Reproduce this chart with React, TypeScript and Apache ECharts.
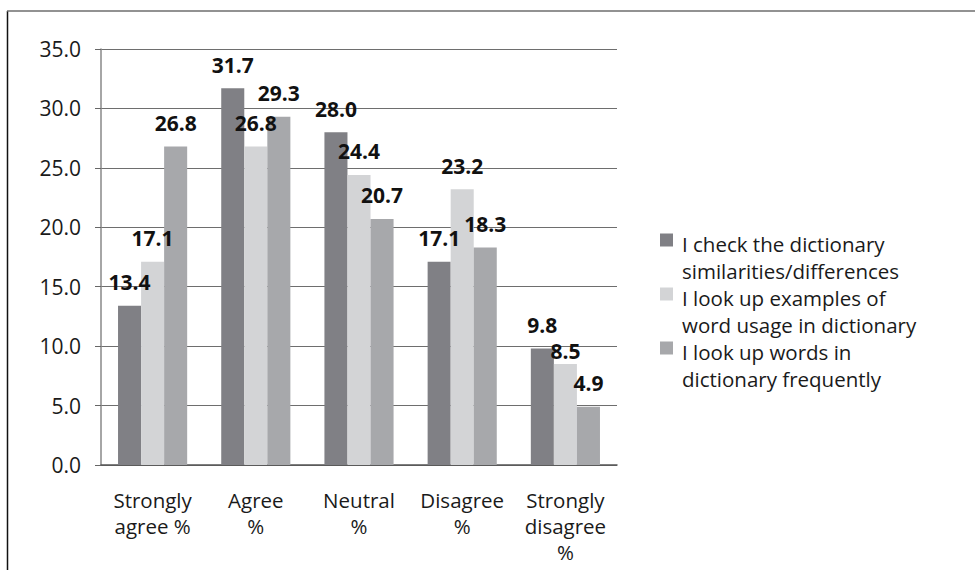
import React, { useEffect, useRef } from "react";
import * as echarts from "echarts";

const categories = [
  "Strongly\nagree %",
  "Agree\n%",
  "Neutral\n%",
  "Disagree\n%",
  "Strongly\ndisagree\n%",
];
const seriesNames = [
  "I check the dictionary\nsimilarities/differences",
  "I look up examples of\nword usage in dictionary",
  "I look up words in\ndictionary frequently",
];
const checkSimilarities = [13.4, 31.7, 28.0, 17.1, 9.8];
const lookUpExamples = [17.1, 26.8, 24.4, 23.2, 8.5];
const lookUpFrequently = [26.8, 29.3, 20.7, 18.3, 4.9];
const seriesValues = [checkSimilarities, lookUpExamples, lookUpFrequently];
const seriesColors = ["#808085", "#d3d4d6", "#a7a8ab"];
// vertical nudges of individual value labels (pixels), per series
const labelNudges = [
  [0, 0, 0, 0, 0],
  [0, 0, 0, 0, 11],
  [0, 0, 0, 0, 0],
];

const FONT = "'Open Sans', 'Noto Sans', sans-serif";

export default function App() {
  const ref = useRef<HTMLDivElement>(null);
  useEffect(() => {
    if (!ref.current) return;
    const chart = echarts.init(ref.current, null, { renderer: "svg" });
    chart.setOption({
      animation: false,
      backgroundColor: "#ffffff",
      textStyle: { fontFamily: FONT },
      grid: { left: 101, right: 358, top: 49, bottom: 105, containLabel: false },
      graphic: [
        {
          type: "line",
          shape: { x1: 7.5, y1: 11, x2: 7.5, y2: 580 },
          style: { stroke: "#111", lineWidth: 1.5 },
        },
        {
          type: "line",
          shape: { x1: 7, y1: 11, x2: 980, y2: 11 },
          style: { stroke: "#6e6e6e", lineWidth: 1.5 },
        },
      ],
      legend: {
        orient: "vertical",
        left: 655,
        top: 225,
        padding: 5,
        itemWidth: 13,
        itemHeight: 54,
        itemGap: 0,
        icon: "path://M0,7h13v13h-13z M0,54",
        textStyle: {
          fontFamily: FONT,
          fontSize: 20.5,
          lineHeight: 27,
          color: "#1a1a1a",
          padding: [0, 0, 0, 4],
        },
        data: seriesNames,
      },
      xAxis: {
        type: "category",
        data: categories,
        axisLine: { show: true, lineStyle: { color: "#555", width: 1.5 } },
        axisTick: { show: false },
        axisLabel: {
          interval: 0,
          fontFamily: FONT,
          fontSize: 20.5,
          lineHeight: 26,
          color: "#1a1a1a",
          margin: 22,
        },
      },
      yAxis: {
        type: "value",
        min: 0,
        max: 35,
        interval: 5,
        axisLine: { show: true, lineStyle: { color: "#888", width: 1.5 } },
        axisTick: { show: true, length: 6, lineStyle: { color: "#666" } },
        splitLine: { lineStyle: { color: "#6e6e6e", width: 1.2 } },
        axisLabel: {
          formatter: (v: number) => v.toFixed(1),
          fontFamily: FONT,
          fontSize: 21,
          color: "#1a1a1a",
          margin: 20,
        },
      },
      series: seriesNames.map((name, i) => ({
        name,
        type: "bar",
        data: seriesValues[i].map((v, j) =>
          labelNudges[i][j]
            ? { value: v, label: { offset: [0, labelNudges[i][j]] } }
            : v
        ),
        barGap: "0%",
        barCategoryGap: "33%",
        itemStyle: { color: seriesColors[i] },
        label: {
          show: true,
          position: "top",
          distance: 13,
          formatter: (p: any) => Number(p.value).toFixed(1),
          fontFamily: FONT,
          fontSize: 21,
          fontWeight: "bold",
          color: "#111",
        },
        z: 2,
      })),
    });
    return () => chart.dispose();
  }, []);
  return (
    <div
      ref={ref}
      style={{ position: "absolute", left: 0, top: 0, width: 975, height: 570 }}
    />
  );
}
